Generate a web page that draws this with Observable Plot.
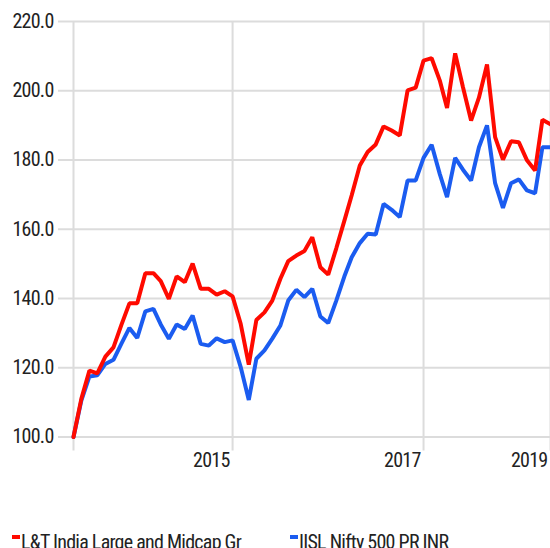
<!DOCTYPE html>
<html>
<head>
<meta charset="utf-8">
<script src="https://cdn.jsdelivr.net/npm/d3@7"></script>
<script src="https://cdn.jsdelivr.net/npm/@observablehq/plot@0.6"></script>
<style>
  body { margin: 0; background: #fff; }
  #chart svg { display: block; }
  .legend { position: relative; height: 40px; font-family: "Liberation Sans Narrow", "Roboto Condensed", Roboto, sans-serif; font-size: 20px; line-height: 20px; color: #222; letter-spacing: -0.75px; }
  .legend .item { position: absolute; top: 0; white-space: nowrap; }
  .legend .sw { position: absolute; top: 3px; left: 0; width: 8px; height: 3.5px; }
  .legend .lbl { position: absolute; top: 0; left: 9px; }
</style>
</head>
<body>
<div id="chart"></div>
<div class="legend" id="legend"></div>
<script>
const seriesNames = ["L&T India Large and Midcap Gr", "IISL Nifty 500 PR INR"];
const seriesColors = ["#ff0a00", "#1b5cf0"];
const firstMonth = "2014-04";
const fundValues = [
  100.0, 111.0, 119.2, 118.4, 123.2, 125.9, 132.3, 138.6, 138.6, 147.3,
  147.3, 145.0, 139.9, 146.4, 144.7, 150.1, 142.8, 142.8, 141.1, 142.1,
  140.6, 132.7, 120.9, 133.8, 136.0, 139.4, 145.7, 150.8, 152.4, 153.7,
  157.7, 149.0, 146.9, 154.5, 162.5, 169.8, 178.4, 182.3, 184.5, 189.7,
  188.5, 187.1, 200.1, 200.9, 208.7, 209.4, 203.0, 195.0, 210.8, 201.0,
  191.4, 198.0, 207.6, 186.6, 180.1, 185.4, 185.1, 179.9, 177.0, 191.6,
  190.3
];
const indexValues = [
  100.0, 110.5, 117.5, 117.8, 121.1, 122.3, 126.9, 131.5, 128.6, 136.3,
  137.0, 132.5, 128.4, 132.5, 131.2, 135.1, 126.9, 126.4, 128.5, 127.4,
  127.9, 120.2, 110.7, 122.6, 125.0, 128.4, 132.2, 139.4, 142.5, 140.4,
  142.8, 134.8, 132.9, 139.4, 146.4, 151.9, 156.0, 158.7, 158.5, 167.3,
  165.6, 163.5, 174.1, 174.1, 180.6, 184.4, 176.0, 169.3, 180.6, 177.2,
  174.1, 183.7, 190.0, 173.3, 166.2, 173.3, 174.4, 171.2, 170.4, 183.7,
  183.7
];
const yTicks = [100, 120, 140, 160, 180, 200, 220];
const xGridMonths = ["2014-04", "2015-12", "2017-12", "2019-04"];
const xTickLabels = ["", "2015", "2017", "2019"];

const parseMonth = d3.utcParse("%Y-%m");
const start = parseMonth(firstMonth);
const months = fundValues.map((_, i) => d3.utcMonth.offset(start, i));
const rows = [];
[indexValues, fundValues].forEach((vals, j) => {
  const name = j === 0 ? seriesNames[1] : seriesNames[0];
  vals.forEach((v, i) => rows.push({date: months[i], value: v, series: name}));
});
const gridDates = xGridMonths.map(parseMonth);

const font = `"Liberation Sans Narrow", "Roboto Condensed", Roboto, sans-serif`;
const grey = "#dcdcdc";

const chart = Plot.plot({
  width: 550,
  height: 532,
  marginLeft: 73,
  marginRight: 0,
  marginTop: 21,
  marginBottom: 95.5,
  style: {fontFamily: font, fontSize: "20px", color: "#222", background: "#fff", overflow: "visible", letterSpacing: "-0.75px"},
  x: {type: "utc", domain: [months[0], months[months.length - 1]], axis: null},
  y: {domain: [100, 220], axis: null},
  color: {domain: seriesNames, range: seriesColors},
  marks: [
    Plot.gridY(yTicks, {stroke: grey, strokeOpacity: 1, strokeWidth: 2}),
    Plot.axisY(yTicks, {label: null, tickSize: 15, tickPadding: 5, tickFormat: d3.format(".1f"), stroke: grey, strokeWidth: 2, fill: "#222", fontSize: 20}),
    Plot.ruleX(gridDates, {x: d => d, stroke: grey, strokeWidth: 2, insetBottom: -14}),
    Plot.text(gridDates, {x: d => d, text: (d, i) => xTickLabels[i], frameAnchor: "bottom", lineAnchor: "top", textAnchor: "end", dx: -3, dy: 16, fontSize: 20, fill: "#222"}),
    Plot.lineY(rows, {x: "date", y: "value", z: "series", stroke: "series", strokeWidth: 4, strokeLinejoin: "miter"})
  ]
});
document.getElementById("chart").append(chart);

const legend = document.getElementById("legend");
const legendLeft = [12, 290];
seriesNames.forEach((name, i) => {
  const item = document.createElement("div");
  item.className = "item";
  item.style.left = legendLeft[i] + "px";
  const sw = document.createElement("span");
  sw.className = "sw";
  sw.style.background = seriesColors[i];
  const lbl = document.createElement("span");
  lbl.className = "lbl";
  lbl.textContent = name;
  item.append(sw, lbl);
  legend.append(item);
});
</script>
</body>
</html>
